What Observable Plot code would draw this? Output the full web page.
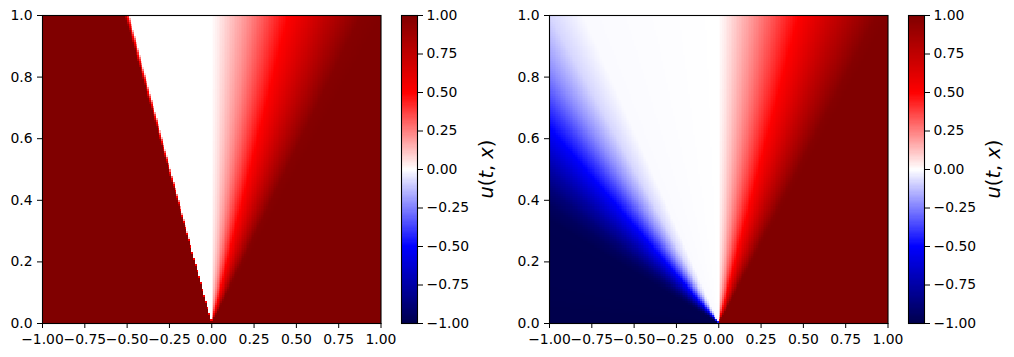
<!DOCTYPE html>
<html><head><meta charset="utf-8">
<script src="https://cdn.jsdelivr.net/npm/d3@7"></script>
<script src="https://cdn.jsdelivr.net/npm/@observablehq/plot@0.6"></script>
<style>
body{margin:0;background:#fff;}
#fig{position:relative;width:1014px;height:357px;overflow:hidden;background:#fff;}
#fig svg{position:absolute;top:0;}
.cblabel{position:absolute;font-family:"DejaVu Sans";font-size:19.4px;line-height:1;white-space:nowrap;transform:translate(-50%,-50%) rotate(-90deg);color:#000;}
.cblabel i{font-style:oblique;}
</style></head><body><div id="fig"></div>
<script>
// tick labels
const xTicks = [-1, -0.75, -0.5, -0.25, 0, 0.25, 0.5, 0.75, 1];
const tTicks = [0, 0.2, 0.4, 0.6, 0.8, 1];
const cTicks = [-1, -0.75, -0.5, -0.25, 0, 0.25, 0.5, 0.75, 1];
const colorLabel = ["u", "(", "t", ", ", "x", ")"];
// seismic colormap stops
const seismicStops = [-1, -0.5, 0, 0.5, 1];
const seismicColors = ["#00004c", "#0000ff", "#ffffff", "#ff0000", "#800000"];
// self-similar profiles u(x/t)
const leftXi = [-20, -0.512, -0.503, -0.494, -0.486, 0, 0.22, 0.45, 0.67, 0.88, 1, 20];
const leftU  = [1, 1, 0.6, 0.35, 0, 0, 0.23, 0.5, 0.75, 0.98, 1, 1];
const rightXi = [-20, -3.0, -2.6, -2.3, -2.0, -1.8, -1.6, -1.4, -1.2, -1.0, -0.8, 0, 0.23, 0.47, 0.7, 0.93, 1, 20];
const rightU  = [-1, -0.99, -0.95, -0.88, -0.76, -0.65, -0.52, -0.38, -0.22, -0.08, -0.01, 0, 0.24, 0.5, 0.75, 0.98, 1, 1];
const gridX = 200, gridT = 150;

const fig = document.getElementById("fig");
const fmt2 = d3.format(".2f"), fmt1 = d3.format(".1f");
const colorScale = {type: "linear", domain: seismicStops, range: seismicColors, interpolate: "rgb"};
const baseStyle = {fontFamily: "DejaVu Sans", fontSize: "13.9px", background: "transparent", overflow: "visible", color: "#000"};

function heat(xi, u, left) {
  const prof = d3.scaleLinear().domain(xi).range(u).clamp(true);
  const svg = Plot.plot({
    width: 400, height: 357,
    marginLeft: 42, marginRight: 19.5, marginTop: 15, marginBottom: 34,
    style: baseStyle,
    x: {domain: [-1, 1], ticks: xTicks, tickFormat: fmt2, label: null, tickSize: 5, tickPadding: 6},
    y: {domain: [0, 1], ticks: tTicks, tickFormat: fmt1, label: null, tickSize: 5, tickPadding: 5},
    color: colorScale,
    marks: [
      Plot.raster({fill: (x, t) => prof(x / t), x1: -1, x2: 1, y1: 0, y2: 1, width: gridX, height: gridT, imageRendering: "pixelated"}),
      Plot.frame({stroke: "#000", strokeWidth: 1.1})
    ]
  });
  svg.style.left = left + "px";
  fig.appendChild(svg);
}

function cbar(left, labelX) {
  const svg = Plot.plot({
    width: 130, height: 357,
    marginLeft: 21, marginRight: 93, marginTop: 15, marginBottom: 34,
    style: baseStyle,
    x: {domain: [0, 1], axis: null},
    y: {domain: [-1, 1], ticks: cTicks, tickFormat: fmt2, axis: "right", label: null, tickSize: 5, tickPadding: 4},
    color: colorScale,
    marks: [
      Plot.raster({fill: (x, v) => v, x1: 0, x2: 1, y1: -1, y2: 1, width: 1, height: 256, imageRendering: "pixelated"}),
      Plot.frame({stroke: "#000", strokeWidth: 1.1})
    ]
  });
  svg.style.left = left + "px";
  fig.appendChild(svg);
  const lab = document.createElement("div");
  lab.className = "cblabel";
  lab.innerHTML = colorLabel.map((s, i) => i % 2 === 0 && /[a-z]/.test(s) ? `<i>${s}</i>` : s).join("");
  lab.style.left = labelX + "px";
  lab.style.top = "169px";
  fig.appendChild(lab);
}

heat(leftXi, leftU, 0);
cbar(380, 487);
heat(rightXi, rightU, 507);
cbar(887, 994);
</script>
</body></html>
